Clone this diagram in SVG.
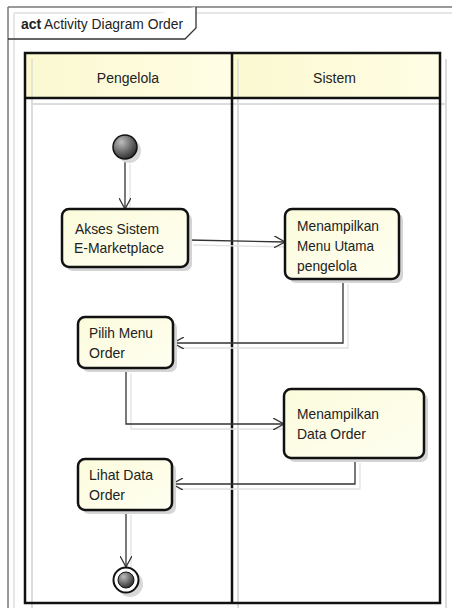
<svg xmlns="http://www.w3.org/2000/svg" width="452" height="608" viewBox="0 0 452 608">
<style>
text{font-family:"Liberation Sans",Arial,sans-serif;font-size:14.5px;fill:#222}
.hdr{font-size:14px;text-anchor:middle}
.ttl{font-size:14px}
.box{fill:url(#boxg);stroke:#111;stroke-width:2.5}
.shadow{fill:#d4d4d4}
.conn{fill:none;stroke:#333;stroke-width:1.3}
.cshadow{fill:none;stroke:#e2e2e2;stroke-width:1.3}
.lane{fill:none;stroke:#111;stroke-width:2.5}
.lshadow{stroke:#dcdcdc;stroke-width:2;fill:none}
</style>
<defs>
<linearGradient id="boxg" x1="0" y1="0" x2="1" y2="1">
<stop offset="0" stop-color="#fbfbdc"/>
<stop offset="1" stop-color="#fffff2"/>
</linearGradient>
<linearGradient id="hdrg" x1="0" y1="0" x2="1" y2="0">
<stop offset="0" stop-color="#fbf9d0"/>
<stop offset="1" stop-color="#fffde4"/>
</linearGradient>
<radialGradient id="ballg" cx="0.35" cy="0.3" r="0.75">
<stop offset="0" stop-color="#bdbdbd"/>
<stop offset="1" stop-color="#2a2a2a"/>
</radialGradient>
<marker id="arr" viewBox="0 0 12 12" refX="11" refY="6" markerWidth="12" markerHeight="12" markerUnits="userSpaceOnUse" orient="auto">
<path d="M0,0 L11,6 L0,12" fill="none" stroke="#333" stroke-width="1.3"/>
</marker>
</defs>
<rect width="452" height="608" fill="#ffffff"/>
<!-- frame -->
<g id="frame">
<line x1="14" y1="13" x2="452" y2="13" stroke="#e6e6e6" stroke-width="2"/>
<line x1="14" y1="13" x2="14" y2="608" stroke="#e6e6e6" stroke-width="2"/>
<line x1="8" y1="7" x2="452" y2="7" stroke="#777" stroke-width="1.5"/>
<line x1="8" y1="7" x2="8" y2="608" stroke="#777" stroke-width="1.5"/>
<path d="M8,39 L185,39 L196,28 L196,7" fill="#fff" stroke="#333" stroke-width="1.3"/>
<text x="21" y="29" class="ttl" style="font-weight:bold">act</text>
<text x="44" y="29" class="ttl" textLength="139" lengthAdjust="spacingAndGlyphs">Activity Diagram Order</text>
</g>
<!-- swimlanes -->
<g id="lanes">
<line x1="32" y1="59" x2="32" y2="608" class="lshadow"/>
<line x1="238" y1="59" x2="238" y2="608" class="lshadow"/>
<line x1="446" y1="59" x2="446" y2="608" class="lshadow"/>
<line x1="32" y1="104" x2="446" y2="104" class="lshadow"/>
<rect x="25" y="53" width="207" height="45" fill="url(#hdrg)"/>
<rect x="232" y="53" width="208" height="45" fill="url(#hdrg)"/>
<line x1="32" y1="59" x2="32" y2="98" stroke="#e4e4d4" stroke-width="2"/>
<line x1="238" y1="59" x2="238" y2="98" stroke="#e4e4d4" stroke-width="2"/>
<rect x="25" y="53" width="415" height="550" class="lane"/>
<line x1="25" y1="98" x2="440" y2="98" class="lane"/>
<line x1="232" y1="53" x2="232" y2="603" class="lane"/>
<text x="128" y="83" class="hdr">Pengelola</text>
<text x="334.5" y="83" class="hdr">Sistem</text>
</g>
<!-- connector shadows -->
<g id="connector-shadows">
<line x1="130" y1="164" x2="130" y2="214" class="cshadow"/>
<line x1="193" y1="245" x2="290" y2="247" class="cshadow"/>
<polyline points="348,284 348,348 178,348" class="cshadow"/>
<polyline points="131,373 131,429 289,429" class="cshadow"/>
<polyline points="360,463 360,489 178,489" class="cshadow"/>
<line x1="131" y1="515" x2="131" y2="572" class="cshadow"/>
</g>
<!-- connectors -->
<g id="connectors">
<line x1="125" y1="159" x2="125" y2="209" class="conn" marker-end="url(#arr)"/>
<line x1="188" y1="240" x2="285" y2="242" class="conn" marker-end="url(#arr)"/>
<polyline points="343,279 343,343 173,343" class="conn" marker-end="url(#arr)"/>
<polyline points="126,368 126,424 284,424" class="conn" marker-end="url(#arr)"/>
<polyline points="355,458 355,484 172,484" class="conn" marker-end="url(#arr)"/>
<line x1="126" y1="510" x2="126" y2="567" class="conn" marker-end="url(#arr)"/>
</g>
<g id="start">
<circle cx="129" cy="151" r="12" fill="#d8d8d8"/>
<circle cx="125" cy="147" r="12" fill="url(#ballg)" stroke="#111" stroke-width="1.5"/>
</g>
<g id="akses">
<rect x="66" y="213" width="126" height="58" rx="7" class="shadow"/>
<rect x="62" y="209" width="126" height="58" rx="7" class="box"/>
<text x="75" y="234" textLength="84" lengthAdjust="spacingAndGlyphs">Akses Sistem</text>
<text x="74" y="253" textLength="90" lengthAdjust="spacingAndGlyphs">E-Marketplace</text>
</g>
<g id="menu-utama">
<rect x="289" y="213" width="114" height="70" rx="7" class="shadow"/>
<rect x="285" y="209" width="114" height="70" rx="7" class="box"/>
<text x="297" y="231" textLength="82" lengthAdjust="spacingAndGlyphs">Menampilkan</text>
<text x="297" y="251" textLength="77" lengthAdjust="spacingAndGlyphs">Menu Utama</text>
<text x="297" y="271" textLength="60" lengthAdjust="spacingAndGlyphs">pengelola</text>
</g>
<g id="pilih-menu">
<rect x="82" y="321" width="95" height="51" rx="7" class="shadow"/>
<rect x="78" y="317" width="95" height="51" rx="7" class="box"/>
<text x="89" y="338" textLength="64" lengthAdjust="spacingAndGlyphs">Pilih Menu</text>
<text x="89" y="358" textLength="36" lengthAdjust="spacingAndGlyphs">Order</text>
</g>
<g id="data-order">
<rect x="288" y="393" width="140" height="69" rx="7" class="shadow"/>
<rect x="284" y="389" width="140" height="69" rx="7" class="box"/>
<text x="297" y="419" textLength="82" lengthAdjust="spacingAndGlyphs">Menampilkan</text>
<text x="297" y="439" textLength="69" lengthAdjust="spacingAndGlyphs">Data Order</text>
</g>
<g id="lihat-data">
<rect x="82" y="463" width="94" height="51" rx="7" class="shadow"/>
<rect x="78" y="459" width="94" height="51" rx="7" class="box"/>
<text x="89" y="480" textLength="64" lengthAdjust="spacingAndGlyphs">Lihat Data</text>
<text x="89" y="500" textLength="36" lengthAdjust="spacingAndGlyphs">Order</text>
</g>
<g id="end">
<circle cx="130" cy="584" r="13" fill="#d8d8d8"/>
<circle cx="126" cy="580" r="12.5" fill="#fff" stroke="#111" stroke-width="2"/>
<circle cx="126" cy="580" r="8" fill="url(#ballg)" stroke="#111" stroke-width="1"/>
</g>
</svg>
